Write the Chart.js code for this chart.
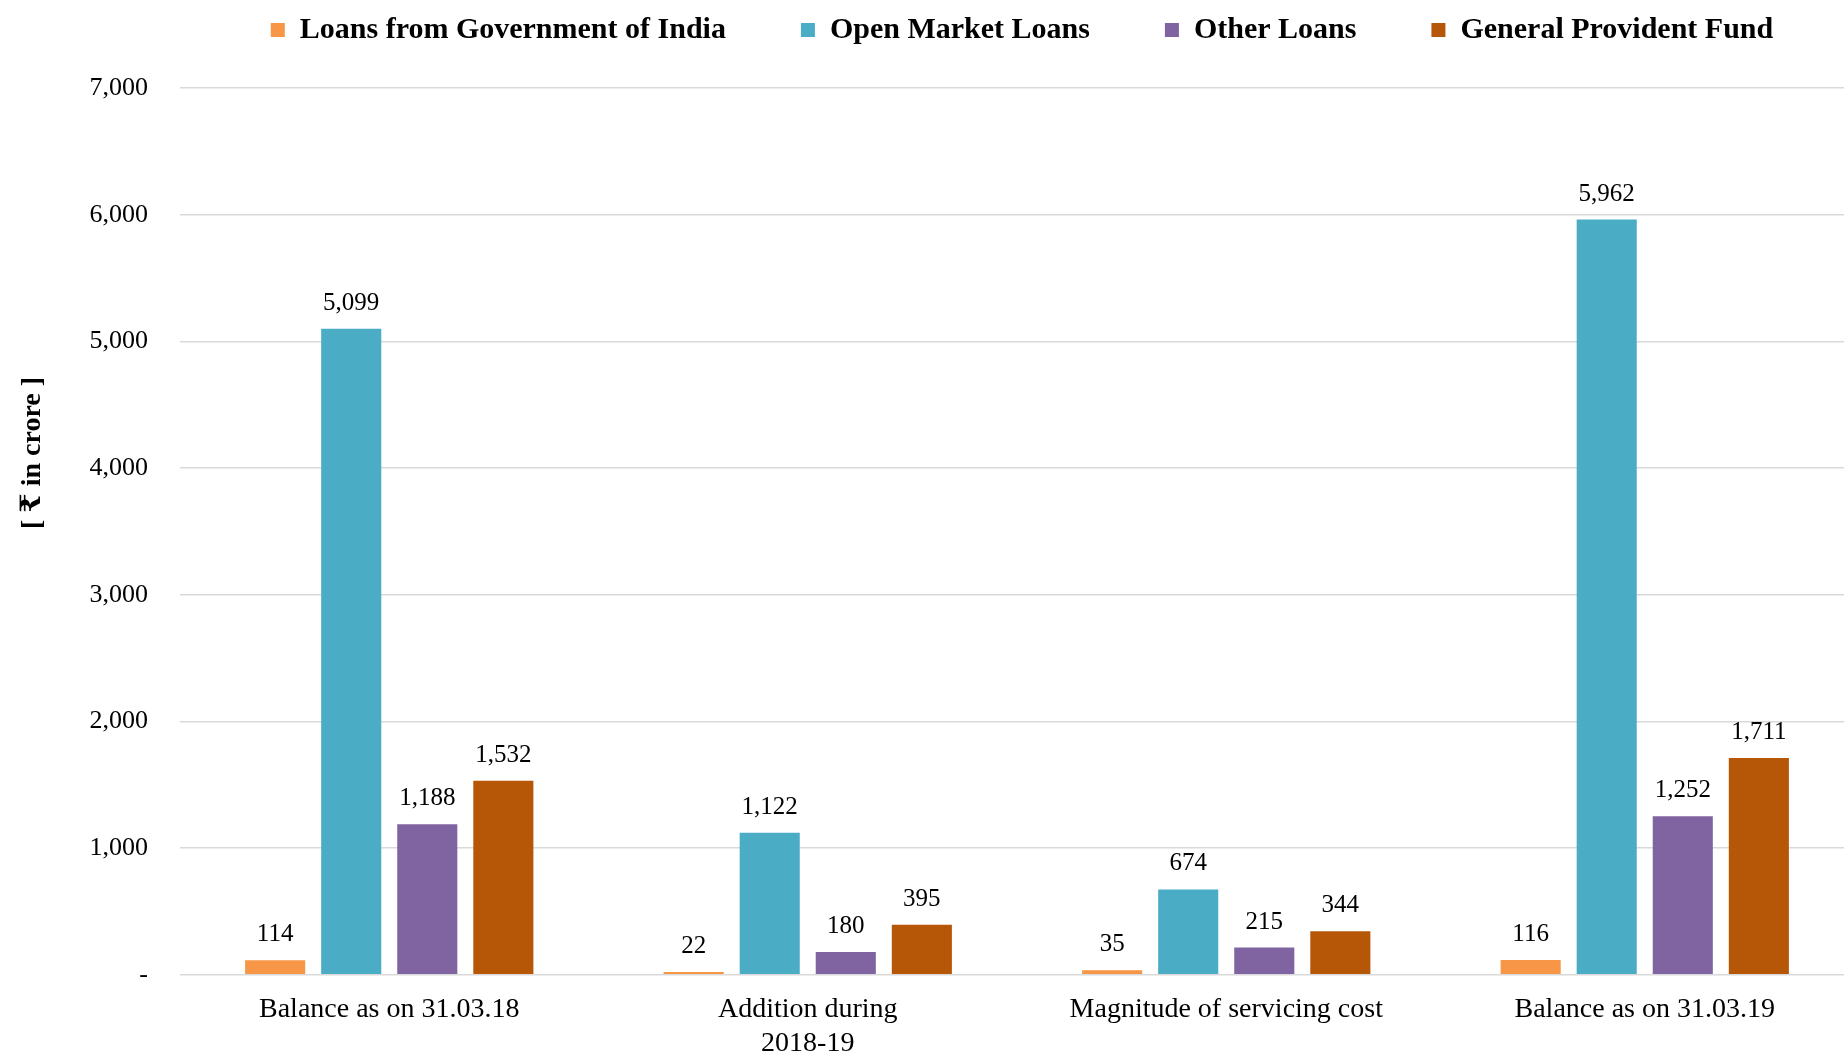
<!DOCTYPE html>
<html>
<head>
<meta charset="utf-8">
<script src="https://cdn.jsdelivr.net/npm/chart.js@4.4.1/dist/chart.umd.min.js"></script>
<style>
  html, body { margin: 0; padding: 0; background: #fff; overflow: hidden; }
  /* a touch bigger than the window: the original plot runs slightly past the right and bottom edges */
  #wrap { width: 1854px; height: 1078px; position: relative; }
</style>
</head>
<body>
<div id="wrap"><canvas id="mycanvas"></canvas></div>
<script>
// categories on the x axis
var categories = ["Balance as on 31.03.18", ["Addition during", "2018-19"], "Magnitude of servicing cost", "Balance as on 31.03.19"];

// series values (in crore)
var govtIndia = [114, 22, 35, 116];
var openMarket = [5099, 1122, 674, 5962];
var otherLoans = [1188, 180, 215, 1252];
var gpf = [1532, 395, 344, 1711];

var seriesNames = ["Loans from Government of India", "Open Market Loans", "Other Loans", "General Provident Fund"];
var yTicks = [0, 1000, 2000, 3000, 4000, 5000, 6000, 7000];
var yTitle = "[ \u20B9 in crore ]";

var fontFam = "'Liberation Serif', 'DejaVu Serif', serif";

// value labels above the bars
var barLabels = {
    id: "barLabels",
    afterDatasetsDraw: function (chart) {
        var ctx = chart.ctx;
        ctx.save();
        ctx.font = "25px " + fontFam;
        ctx.fillStyle = "#000";
        ctx.textAlign = "center";
        ctx.textBaseline = "bottom";
        chart.data.datasets.forEach(function (ds, i) {
            var meta = chart.getDatasetMeta(i);
            meta.data.forEach(function (bar, j) {
                ctx.fillText(ds.data[j].toLocaleString("en-US"), bar.x, bar.y - 13);
            });
        });
        ctx.restore();
    }
};

// rotated y axis title, sits a bit above the plot middle like the original
var yTitlePlugin = {
    id: "yTitlePlugin",
    afterDraw: function (chart) {
        var ctx = chart.ctx;
        ctx.save();
        ctx.translate(33, 453);
        ctx.rotate(-Math.PI / 2);
        ctx.font = "bold 28px " + fontFam;
        ctx.fillStyle = "#000";
        ctx.textAlign = "center";
        ctx.textBaseline = "middle";
        ctx.fillText(yTitle, 0, 0);
        ctx.restore();
    }
};

// legend is centred over the plot and pulled up to the top edge
var legendShift = {
    id: "legendShift",
    afterLayout: function (chart) {
        var lg = chart.legend;
        lg.left = 190;
        lg.top -= 33;
        lg.bottom -= 33;
    }
};

var Data = {
    labels: categories,
    datasets: [
        { label: seriesNames[0], data: govtIndia, backgroundColor: "#F79646" },
        { label: seriesNames[1], data: openMarket, backgroundColor: "#4BACC6" },
        { label: seriesNames[2], data: otherLoans, backgroundColor: "#8064A2" },
        { label: seriesNames[3], data: gpf, backgroundColor: "#B65708" }
    ]
};

var ctx = document.getElementById("mycanvas");
var myNewChart = new Chart(ctx, {
    type: "bar",
    data: Data,
    plugins: [barLabels, yTitlePlugin, legendShift],
    options: {
        responsive: true,
        maintainAspectRatio: false,
        animation: false,
        categoryPercentage: 0.727,
        barPercentage: 0.79,
        layout: { padding: { top: -27, right: 0, left: 0, bottom: 0 } },
        plugins: {
            tooltip: { enabled: false },
            legend: {
                position: "top",
                labels: {
                    boxWidth: 14,
                    boxHeight: 14,
                    padding: 75,
                    color: "#000",
                    font: { family: fontFam, size: 30, weight: "bold" }
                }
            }
        },
        scales: {
            x: {
                grid: { display: false, drawTicks: false },
                border: { display: false },
                ticks: {
                    color: "#000",
                    padding: 18,
                    maxRotation: 0,
                    autoSkip: false,
                    font: { family: fontFam, size: 28 }
                }
            },
            y: {
                min: 0,
                max: 7000,
                afterBuildTicks: function (scale) {
                    scale.ticks = yTicks.map(function (v) { return { value: v }; });
                },
                afterFit: function (scale) { scale.width = 180; },
                grid: { color: "#D9D9D9", lineWidth: 1.5, drawTicks: false },
                border: { display: false },
                ticks: {
                    color: "#000",
                    padding: 32,
                    font: { family: fontFam, size: 26 },
                    callback: function (v) { return v === 0 ? "-" : v.toLocaleString("en-US"); }
                }
            }
        }
    }
});
</script>
</body>
</html>
